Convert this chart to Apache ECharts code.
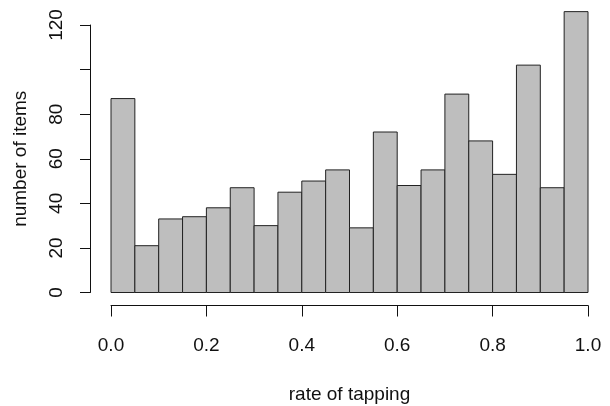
<!DOCTYPE html>
<html>
<head>
<meta charset="utf-8">
<script src="https://cdn.jsdelivr.net/npm/echarts@6/dist/echarts.min.js"></script>
<style>
html,body{margin:0;padding:0;background:#fff;}
#chart{width:610px;height:406px;}
</style>
</head>
<body>
<div id="chart"></div>
<script>
// histogram bins (width 0.05)
const binStarts = [0.00,0.05,0.10,0.15,0.20,0.25,0.30,0.35,0.40,0.45,0.50,0.55,0.60,0.65,0.70,0.75,0.80,0.85,0.90,0.95];
const binEnds   = [0.05,0.10,0.15,0.20,0.25,0.30,0.35,0.40,0.45,0.50,0.55,0.60,0.65,0.70,0.75,0.80,0.85,0.90,0.95,1.00];
const counts = [87,21,33,34,38,47,30,45,50,55,29,72,48,55,89,68,53,102,47,126];
const yTickLabels = ['0','20','40','60','80','','120'];
const xTitle = 'rate of tapping';
const yTitle = 'number of items';

const FONT = 'Liberation Sans, Arial, sans-serif';
const chart = echarts.init(document.getElementById('chart'), null, {renderer:'canvas'});
const seriesData = binStarts.map((s,i)=>[s, binEnds[i], counts[i]]);
chart.setOption({
  animation:false,
  backgroundColor:'#ffffff',
  grid:{left:111,right:22,top:25,bottom:113.5,containLabel:false,outerBoundsMode:'none'},
  xAxis:[
    {type:'value',min:0,max:1,interval:0.2,position:'bottom',offset:13,
     axisLine:{show:true,onZero:false,lineStyle:{color:'#111',width:1}},
     axisTick:{show:true,length:11,inside:false,lineStyle:{color:'#111',width:1}},
     axisLabel:{show:true,margin:31,fontSize:19,fontFamily:FONT,color:'#111',
       formatter:v=>v.toFixed(1)},
     splitLine:{show:false},
     name:xTitle,nameLocation:'middle',nameGap:80,
     nameTextStyle:{fontSize:19,fontFamily:FONT,color:'#111'}}
  ],
  yAxis:[{type:'value',min:0,max:120,interval:20,offset:21,
    axisLine:{show:true,onZero:false,lineStyle:{color:'#111',width:1}},
    axisTick:{show:true,length:10,inside:false,lineStyle:{color:'#111',width:1}},
    axisLabel:{show:true,rotate:90,margin:24,fontSize:19,fontFamily:FONT,color:'#111',
      formatter:(v)=>yTickLabels[Math.round(v/20)] ?? ''},
    splitLine:{show:false},
    name:yTitle,nameLocation:'middle',nameGap:60,
    nameTextStyle:{fontSize:19,fontFamily:FONT,color:'#111'}}],
  series:[{
    type:'custom',clip:false,data:seriesData,
    encode:{x:[0,1],y:2},
    renderItem:function(params, api){
      const p0 = api.coord([api.value(0), 0]);
      const p1 = api.coord([api.value(1), api.value(2)]);
      return {
        type:'rect',
        shape:{x:p0[0], y:p1[1], width:p1[0]-p0[0], height:p0[1]-p1[1]},
        style:{fill:'#BEBEBE', stroke:'#222', lineWidth:1}
      };
    }
  }]
});
</script>
</body>
</html>
